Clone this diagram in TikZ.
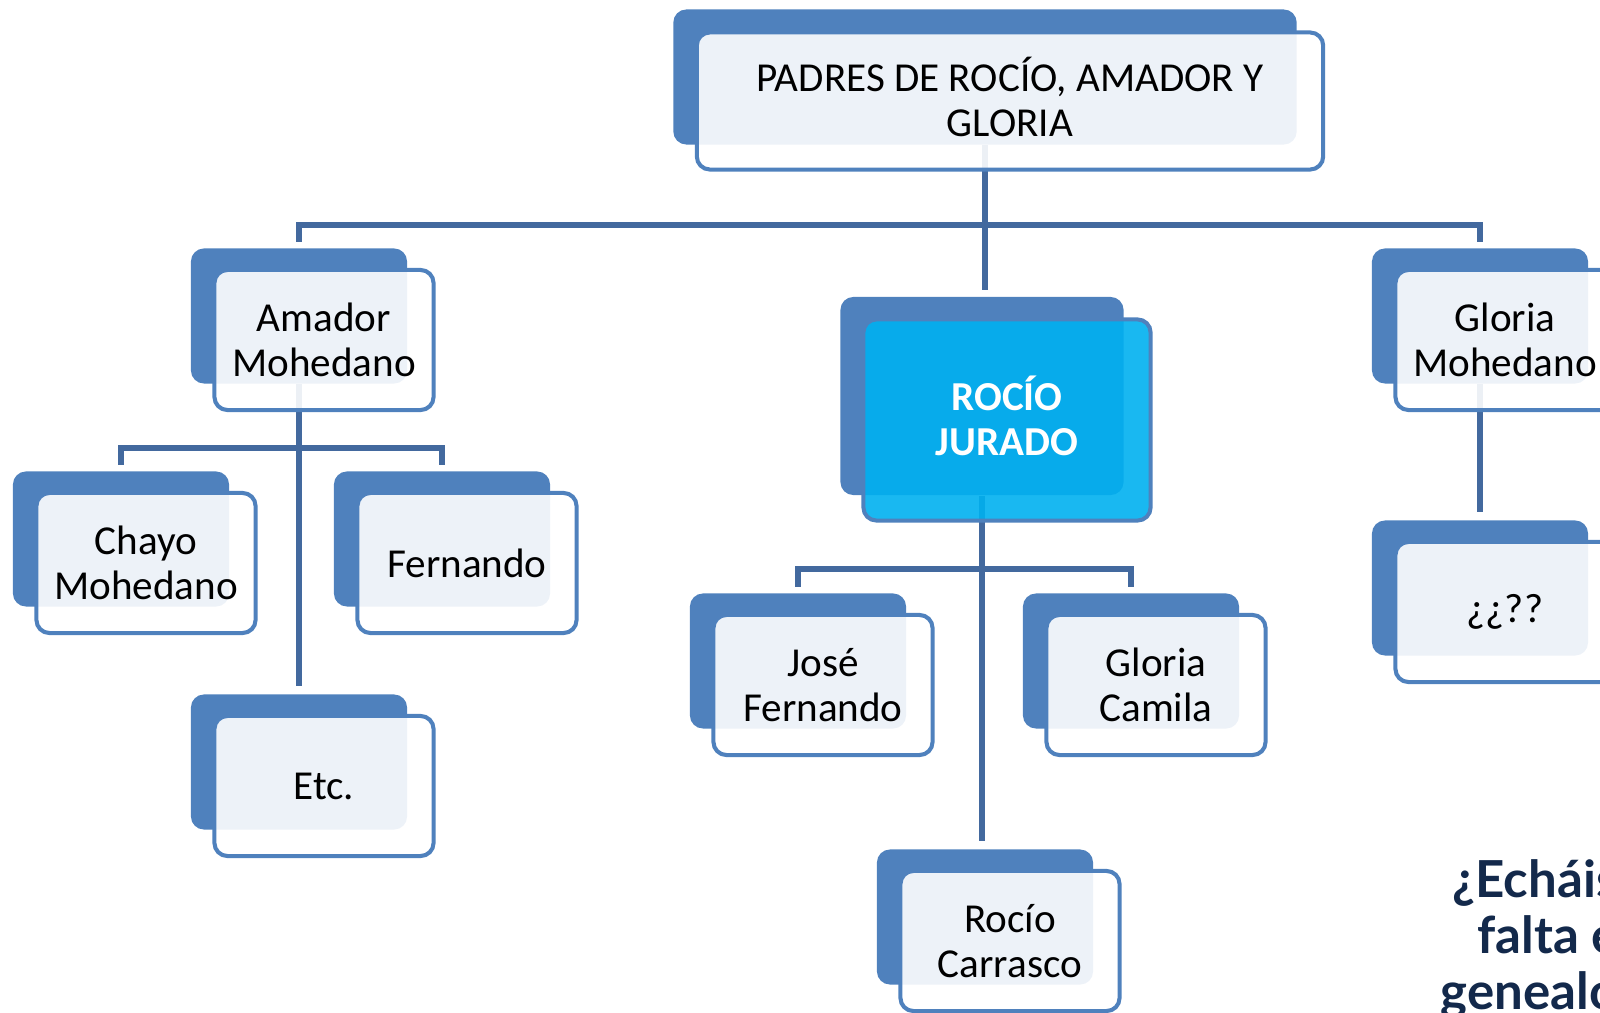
\documentclass[tikz,border=0pt]{standalone}
\usepackage{fontspec}
\setmainfont{Carlito}
\newfontfamily\questionfont{Lato}
\usepackage{tikz}
\usetikzlibrary{calc,backgrounds}
\tikzset{every node/.style={font=\rmfamily\fontsize{11.7}{12.8}\selectfont}}
\definecolor{myblue}{HTML}{4F81BD}
\definecolor{myline}{HTML}{43699E}
\definecolor{mycyan}{HTML}{00B0F0}
\definecolor{mynavy}{HTML}{13294B}
\tikzset{
  backbox/.style={fill=myblue, rounded corners=1.3mm, minimum width=2.16cm, minimum height=1.35cm, inner sep=0pt},
  frontbox/.style={draw=myblue, line width=1.15pt, fill=white, fill opacity=0.9, text opacity=1,
    rounded corners=1.3mm, minimum width=2.19cm, minimum height=1.40cm, inner sep=0pt, align=center},
  linkline/.style={draw=myline, line width=1.5pt},
  question/.style={font=\questionfont\bfseries\fontsize{14.5}{15}\selectfont, text=mynavy, anchor=base west, inner sep=0pt}
}
\def\Dx{-25}
\def\Dy{-24}

\begin{document}
\begin{tikzpicture}[x=0.01cm, y=-0.01cm]
 \useasboundingbox (0,0) rectangle (1600,1013);

 % 各框中心
 \coordinate (PP) at (1010, 101);
 \coordinate (PA) at (324, 340);
 \coordinate (PR) at (1007, 420);
 \coordinate (PG) at (1505, 340);
 \coordinate (PC) at (146, 563);
 \coordinate (PF) at (467, 563);
 \coordinate (PE) at (324, 786);
 \coordinate (PJ) at (823, 685);
 \coordinate (PM) at (1156, 685);
 \coordinate (PK) at (1010, 941);
 \coordinate (PQ) at (1505, 612);

 % 第一层
 \node[backbox, minimum width=6.23cm] (padresB) at ($(PP)+(\Dx,\Dy)$) {};
 \node[frontbox, minimum width=6.26cm, minimum height=1.37cm, text depth=2.4pt] (padres) at (PP) {PADRES DE ROCÍO, AMADOR Y\\GLORIA};

 % 第二层
 \node[backbox] (amadorB) at ($(PA)+(\Dx,\Dy)$) {};
 \node[frontbox] (amador) at (PA) {Amador\\Mohedano};

 \node[backbox, minimum width=2.83cm, minimum height=1.98cm] (rocioB) at ($(PR)+(\Dx,\Dy)$) {};
 \node[frontbox, fill=mycyan, minimum width=2.87cm, minimum height=2.01cm, text depth=2.4pt, text=white, font=\bfseries\fontsize{11.7}{12.8}\selectfont] (rocio) at (PR) {ROCÍO\\JURADO};

 \node[backbox] (gloriaB) at ($(PG)+(\Dx,\Dy)$) {};
 \node[frontbox] (gloria) at (PG) {Gloria\\Mohedano};

 % 第三层
 \node[backbox] (chayoB) at ($(PC)+(\Dx,\Dy)$) {};
 \node[frontbox] (chayo) at (PC) {Chayo\\Mohedano};

 \node[backbox] (fernandoB) at ($(PF)+(\Dx,\Dy)$) {};
 \node[frontbox] (fernando) at (PF) {Fernando};

 \node[backbox] (etcB) at ($(PE)+(\Dx,\Dy)$) {};
 \node[frontbox] (etc) at (PE) {Etc.};

 \node[backbox] (joseB) at ($(PJ)+(\Dx,\Dy)$) {};
 \node[frontbox] (jose) at (PJ) {José\\Fernando};

 \node[backbox] (camilaB) at ($(PM)+(\Dx,\Dy)$) {};
 \node[frontbox] (camila) at (PM) {Gloria\\Camila};

 \node[backbox] (carrascoB) at ($(PK)+(\Dx,\Dy)$) {};
 \node[frontbox] (carrasco) at (PK) {Rocío\\Carrasco};

 \node[backbox] (incognitaB) at ($(PQ)+(\Dx,\Dy)$) {};
 \node[frontbox] (incognita) at (PQ) {¿¿??};

 % 连线
 \coordinate (barP) at (0, 225);
 \coordinate (barA) at (0, 448);
 \coordinate (barR) at (0, 569);
 \begin{scope}[on background layer]
  \draw[linkline] (padresB) -- ($(padresB.south |- rocioB.north)+(0,-6)$);
  \draw[linkline] ($(amadorB.north)+(0,-6)$) -- (amadorB.north |- barP) -- (gloriaB.north |- barP) -- ($(gloriaB.north)+(0,-6)$);

  \draw[linkline] (amadorB) -- ($(etcB.north)+(0,-8)$);
  \draw[linkline] ($(chayoB.north)+(0,-6)$) -- (chayoB.north |- barA) -- (fernandoB.north |- barA) -- ($(fernandoB.north)+(0,-6)$);

  \draw[linkline] (rocioB) -- ($(rocioB.south |- carrascoB.north)+(0,-8)$);
  \draw[linkline] ($(joseB.north)+(0,-6)$) -- (joseB.north |- barR) -- (camilaB.north |- barR) -- ($(camilaB.north)+(0,-6)$);

  \draw[linkline] (gloriaB) -- ($(incognitaB.north)+(0,-8)$);
 \end{scope}

 % 右下角文字
 \node[question] (q1) at (1452, 897) {¿Echáis};
 \node[question] (q2) at (1477, 953) {falta e};
 \node[question] (q3) at (1440, 1009) {genealó};

\end{tikzpicture}
\end{document}
